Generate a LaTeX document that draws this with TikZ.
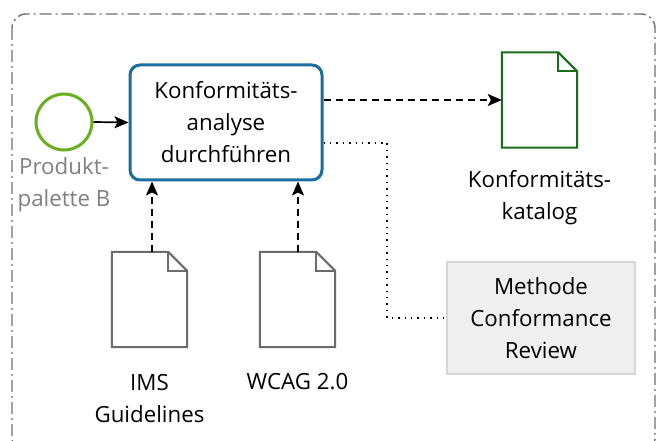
\documentclass[tikz,border=0pt]{standalone}
\usepackage{fontspec}
\setmainfont{Open Sans}
\usetikzlibrary{arrows.meta}
\definecolor{startgreen}{HTML}{6AAE22}
\definecolor{taskblue}{HTML}{1C6EA0}
\definecolor{docgreen}{HTML}{1A6B1A}
\definecolor{docgray}{HTML}{6B6B6B}
\definecolor{framegray}{HTML}{707070}
\definecolor{notefill}{HTML}{EFEFEF}
\definecolor{noteline}{HTML}{D6D6D6}
\definecolor{labelgray}{HTML}{808080}
\tikzset{
  txt/.style={font=\fontsize{22.3}{32}\selectfont, align=center},
  startev/.style={circle, draw=startgreen, line width=3pt, minimum size=56pt, inner sep=0pt},
  taskbox/.style={rectangle, rounded corners=10pt, draw=taskblue, line width=3pt,
    minimum width=192pt, minimum height=115pt, inner sep=0pt, txt},
  docbox/.style={rectangle, draw=none, minimum width=75pt, minimum height=95pt, inner sep=0pt},
  notebox/.style={rectangle, fill=notefill, draw=noteline, line width=2pt,
    minimum width=188pt, minimum height=112pt, inner sep=0pt, txt},
  seqflow/.style={line width=1.7pt, -{Stealth[length=14pt,width=12pt,inset=3pt]}},
  dataflow/.style={line width=1.7pt, dash pattern=on 7pt off 5pt,
    -{Stealth[length=14pt,width=12pt,inset=3pt]}},
  assoc/.style={line width=1.5pt, dash pattern=on 1.4pt off 5pt},
}
% document outline with a folded corner
\newcommand\docoutline[2]{%
  \draw[#2, line width=2pt, line join=miter]
    (#1.north west) -- ([xshift=-19pt]#1.north east) -- ([yshift=-19pt]#1.north east)
    -- (#1.south east) -- (#1.south west) -- cycle;
  \draw[#2, line width=2pt]
    ([xshift=-19pt]#1.north east) -- ([xshift=-19pt,yshift=-19pt]#1.north east)
    -- ([yshift=-19pt]#1.north east);
}
\begin{document}
\begin{tikzpicture}[x=1pt,y=-1pt]
\useasboundingbox (0,0) rectangle (657,441);
\clip (0,0) rectangle (657,441);
\fill[white] (0,0) rectangle (657,441);

% pool frame
\draw[framegray, line width=1.4pt, dash pattern=on 12pt off 4pt on 2pt off 4pt,
  rounded corners=14pt] (12,14) rectangle (655,452);

% start event
\node[startev] (start) at (64,122) {};
\node[txt, text=labelgray] (startlbl) at (64,184.5) {Produkt-\\palette B};

% task
\node[taskbox] (task) at (226,122.5) {Konformitäts-\\analyse\\durchführen};

% documents
\node[docbox] (cat) at (539.5,100) {};
\docoutline{cat}{docgreen}
\node[txt] (catlbl) at (539.5,198) {Konformitäts-\\katalog};

\node[docbox] (ims) at (149.5,299.5) {};
\docoutline{ims}{docgray}
\node[txt] (imslbl) at (149.5,398.5) {IMS\\Guidelines};

\node[docbox] (wcag) at (297.5,299.5) {};
\docoutline{wcag}{docgray}
\node[txt] (wcaglbl) at (297.5,382) {WCAG 2.0};

% annotation
\node[notebox] (note) at (541,318) {Methode\\Conformance\\Review};

% flows
\draw[seqflow] (start.east) -- (task.west);
\draw[dataflow] (task.east |- cat.west) -- (cat.west);
\draw[dataflow] (ims.north -| 152,0) -- (152,0 |- task.south);
\draw[dataflow] (wcag.north -| 298,0) -- (298,0 |- task.south);
\coordinate (bendA) at (387,143);
\coordinate (bendB) at (387,318);
\draw[assoc] (task.east |- bendA) -- (bendA) -- (bendB) -- (note.west);
\end{tikzpicture}
\end{document}
